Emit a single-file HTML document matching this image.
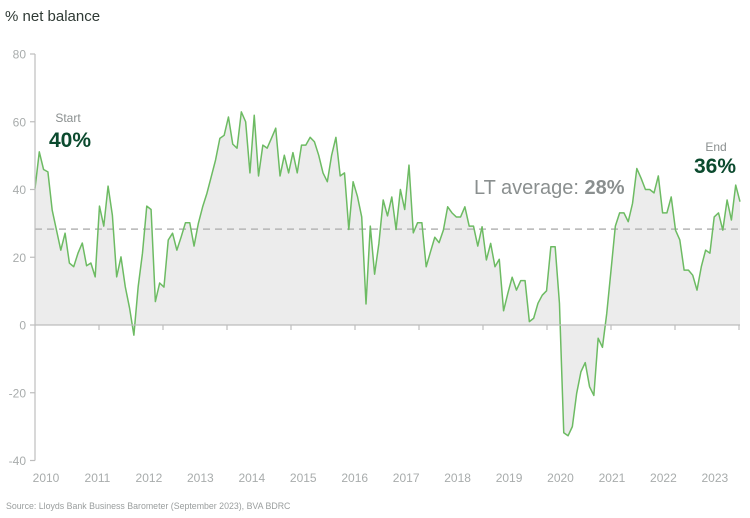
<!DOCTYPE html>
<html><head><meta charset="utf-8"><style>
body{margin:0;background:#fff;width:750px;height:518px;overflow:hidden;font-family:"Liberation Sans",sans-serif}
svg{display:block}
</style></head><body>
<svg id="chart" width="750" height="518" viewBox="0 0 750 518">
<text x="5" y="21" font-size="15" fill="#2f3a35">% net balance</text>
<g id="grid"></g>
<g id="series"></g>
<g id="axes"></g>
<text x="68" y="122" font-size="12" fill="#8a8f8f" text-anchor="middle">Start</text>
<text x="70" y="147" font-size="21" font-weight="bold" fill="#0b4a2e" text-anchor="middle">40%</text>
<text x="716" y="151" font-size="12" fill="#8a8f8f" text-anchor="middle">End</text>
<text x="715" y="173" font-size="21" font-weight="bold" fill="#0b4a2e" text-anchor="middle">36%</text>
<text x="474" y="194" font-size="20" fill="#8a8f8f">LT average: <tspan font-weight="bold">28%</tspan></text>
<text x="6" y="509" font-size="8.8" fill="#9a9e9e">Source: Lloyds Bank Business Barometer (September 2023), BVA BDRC</text>
</svg>
<script>
const values = [40.3,51.1,45.9,45.2,33.9,28,22.1,27.1,18.3,17.2,21.2,24.2,17.5,18.3,14.2,35.1,29.2,41,32.4,14.2,20.1,11.3,5,-3,11.3,21.2,35.1,34.1,6.9,12.4,
11.2,25.1,27.1,22.1,26,30.2,30.2,23.3,30,34.9,38.9,43.8,48.7,55.1,56,61.4,53.4,52.2,62.9,60,44.9,61.9,44,53.1,52.2,55.1,58.1,44,50.1,
44.9,50.9,44.9,53.1,53.1,55.4,54.1,50.1,44.9,42.3,50.1,55.4,44,44.9,28.2,42.3,38,31.9,6.2,29.2,15,24.1,36.9,32.2,37.8,28.2,40,34.1,47.2,
27.2,30.2,30.2,17.2,21.6,25.9,24.3,28,34.9,33.1,31.9,31.9,34.9,29.2,29.2,23.3,29,19.2,24.1,17.2,19.4,4.2,9.4,14.1,10.3,13.1,13.1,1,2,
6.4,8.8,10.1,23.1,23.1,6.4,-31.8,-32.7,-30,-20.2,-13.8,-11.1,-18.2,-20.8,-3.9,-6.6,3.4,16.2,29.2,33.1,33.1,30.5,35.9,46.2,43.3,40,40,39,44,
33.1,33.1,37.8,28,25.1,16.2,16.2,14.7,10.3,17.2,22.1,21.2,31.9,33.1,28,36.9,31,41.3,36.4];
const yTicks = [80,60,40,20,0,-20,-40];
const yearLabels = ["2010","2011","2012","2013","2014","2015","2016","2017","2018","2019","2020","2021","2022","2023"];
const ltAverage = 28.3;

const NS="http://www.w3.org/2000/svg";
const X0=35,X1=740;
function xS(i){return X0+(X1-X0)*i/(values.length-1);}
function yS(v){return 325-(v*(325-54)/80);}
function mk(tag,attrs,parent){const e=document.createElementNS(NS,tag);for(const k in attrs)e.setAttribute(k,attrs[k]);parent.appendChild(e);return e;}
const axes=document.getElementById('axes'),series=document.getElementById('series'),grid=document.getElementById('grid');

let d='M'+xS(0)+','+yS(0);
values.forEach((v,i)=>{d+=' L'+xS(i).toFixed(2)+','+yS(v).toFixed(2);});
d+=' L'+xS(values.length-1)+','+yS(0)+' Z';
const area=mk('path',{d:d,fill:'#ececec'},series);



const avg=mk('line',{x1:X0,x2:X1,y1:yS(ltAverage),y2:yS(ltAverage),stroke:'#b5b5b5','stroke-width':1.5,'stroke-dasharray':'7,5'},series);



let ld='';
values.forEach((v,i)=>{ld+=(i?' L':'M')+xS(i).toFixed(2)+','+yS(v).toFixed(2);});
const line=mk('path',{d:ld,fill:'none',stroke:'#6dbb63','stroke-width':1.5,'stroke-linejoin':'round'},series);



const ya=mk('line',{x1:X0,x2:X0,y1:yS(80),y2:yS(-40),stroke:'#bdbdbd','stroke-width':1.2},axes);


const xa=mk('line',{x1:X0,x2:X1,y1:yS(0),y2:yS(0),stroke:'#bdbdbd','stroke-width':1.2},axes);


yTicks.forEach(t=>{
  const tk=mk('line',{x1:X0-5,x2:X0,y1:yS(t),y2:yS(t),stroke:'#bdbdbd','stroke-width':1.2},axes);
  
  
  const tx=mk('text',{x:X0-9,y:yS(t)+4.5,'font-size':12,fill:'#a8acac','text-anchor':'end'},axes);
  tx.textContent=t;
  
  
});
for(let x=X0+64;x<X1;x+=64){
  const tk=mk('line',{x1:x,x2:x,y1:yS(0),y2:yS(0)+5,stroke:'#bdbdbd','stroke-width':1.2},axes);
  
  
}
yearLabels.forEach((y,i)=>{
  const tx=mk('text',{x:46+i*51.45,y:482,'font-size':12,fill:'#a8acac','text-anchor':'middle'},axes);
  tx.textContent=y;
  
  
});
</script>
</body></html>
